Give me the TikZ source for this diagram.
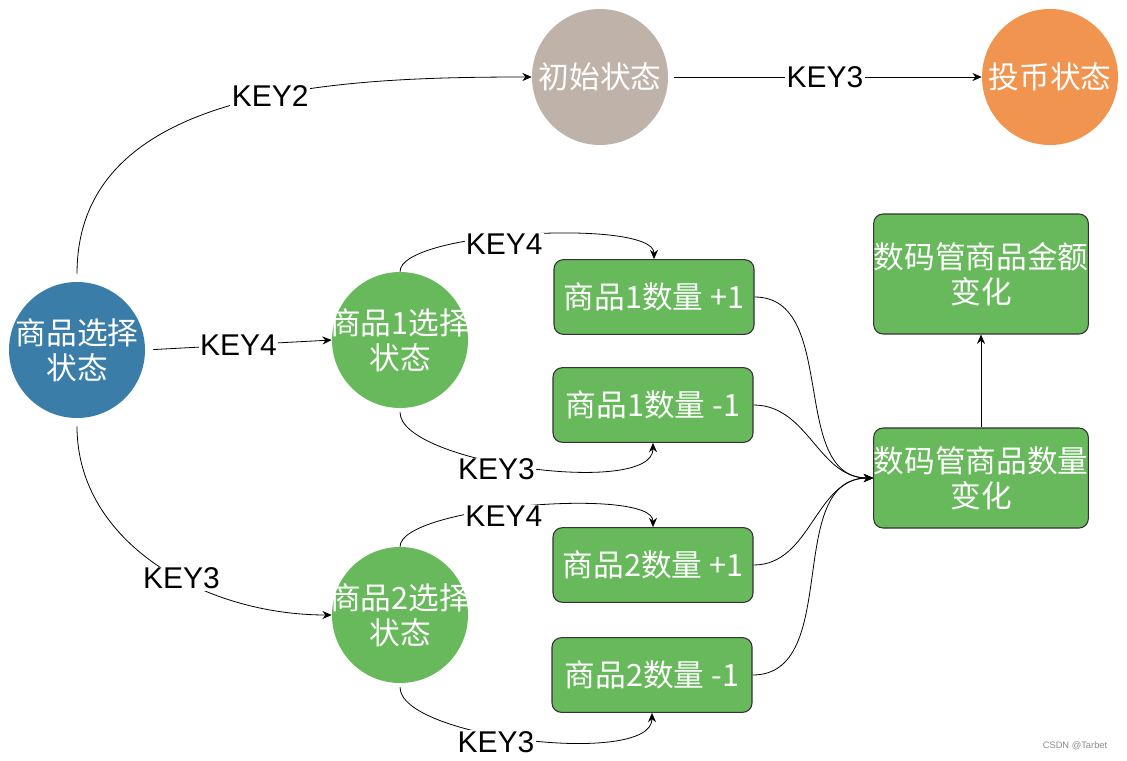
\documentclass[tikz,border=0pt]{standalone}
\usepackage{fontspec}
\setmainfont{Liberation Sans}
\newfontfamily\cjk{Noto Sans CJK SC}
\usetikzlibrary{arrows.meta}
\definecolor{selblue}{RGB}{58,125,168}
\definecolor{selgreen}{RGB}{103,185,91}
\definecolor{initgrey}{RGB}{191,178,168}
\definecolor{coinorange}{RGB}{240,148,79}
% zero-width line so the circle keeps its size
\newcommand{\noswell}[1]{\makebox[0pt]{#1}}

\begin{document}
\begin{tikzpicture}[x=0.75pt,y=0.75pt,
  state/.style={circle,minimum size=102pt,inner sep=0pt,text=white,align=center,font=\cjk\fontsize{23}{26}\selectfont},
  box/.style={rectangle,rounded corners=7pt,draw=black!80,line width=0.8pt,fill=selgreen,text=white,align=center,inner sep=0pt,font=\cjk\fontsize{23}{26}\selectfont},
  key/.style={fill=white,inner sep=1pt,font=\fontsize{22.5}{25}\selectfont},
  link/.style={-{Stealth[length=7pt,width=6pt]},line width=0.6pt}]
\useasboundingbox (0,0) rectangle (1127,-760);
% states
\node[state,fill=selblue] (sel) at (77,-350) {\noswell{商品选择}\\\noswell{状态}};
\node[state,fill=initgrey] (init) at (600,-77) {\noswell{初始状态}};
\node[state,fill=coinorange] (coin) at (1050,-77) {\noswell{投币状态}};
\node[state,fill=selgreen] (sel1) at (400,-340) {\noswell{商品1选择}\\\noswell{状态}};
\node[state,fill=selgreen] (sel2) at (400,-615) {\noswell{商品2选择}\\\noswell{状态}};
% counters
\node[box,minimum width=150pt,minimum height=56pt] (inc1) at (654,-297) {商品1数量 +1};
\node[box,minimum width=150pt,minimum height=56pt] (dec1) at (653,-405) {商品1数量 -1};
\node[box,minimum width=150pt,minimum height=56pt] (inc2) at (653,-565) {商品2数量 +1};
\node[box,minimum width=150pt,minimum height=56pt] (dec2) at (652,-675) {商品2数量 -1};
\node[box,minimum width=160pt,minimum height=90pt] (amount) at (981,-274) {数码管商品金额\\变化};
\node[box,minimum width=160pt,minimum height=75pt] (count) at (981,-478) {数码管商品数量\\变化};
% transitions
\draw[link,shorten <=6pt] (sel.north) to[out=90,in=180] node[key,pos=0.57] {KEY2} (init.west);
\draw[link,shorten <=4pt] (init.east) -- node[key] {KEY3} (coin.west);
\draw[link,shorten <=6pt] (sel.east) -- node[key] {KEY4} (sel1.west);
\draw[link,shorten <=6pt] (sel.south) to[out=-90,in=180] node[key,pos=0.58] {KEY3} (sel2.west);
\draw[link] (sel1.north) to[out=90,in=90,looseness=0.41] node[key,pos=0.44,yshift=-6pt] {KEY4} (inc1.north);
\draw[link,shorten <=3pt] (sel1.south) to[out=-90,in=-90,looseness=0.55] node[key,pos=0.42,yshift=-6pt] {KEY3} (dec1.south);
\draw[link] (sel2.north) to[out=90,in=90,looseness=0.41] node[key,pos=0.44,yshift=-6pt] {KEY4} (inc2.north);
\draw[link,shorten <=3pt] (sel2.south) to[out=-90,in=-90,looseness=0.55] node[key,pos=0.42,yshift=-6pt] {KEY3} (dec2.south);
\foreach \src in {inc1,dec1,inc2,dec2}
  \draw[link] (\src.east) to[out=0,in=180] (count.west);
\draw[link] (count.north) -- (amount.south);
\node[text=black!45,font=\fontsize{7}{8}\selectfont] (mark) at (1075,-746) {CSDN @Tarbet};
\end{tikzpicture}
\end{document}
